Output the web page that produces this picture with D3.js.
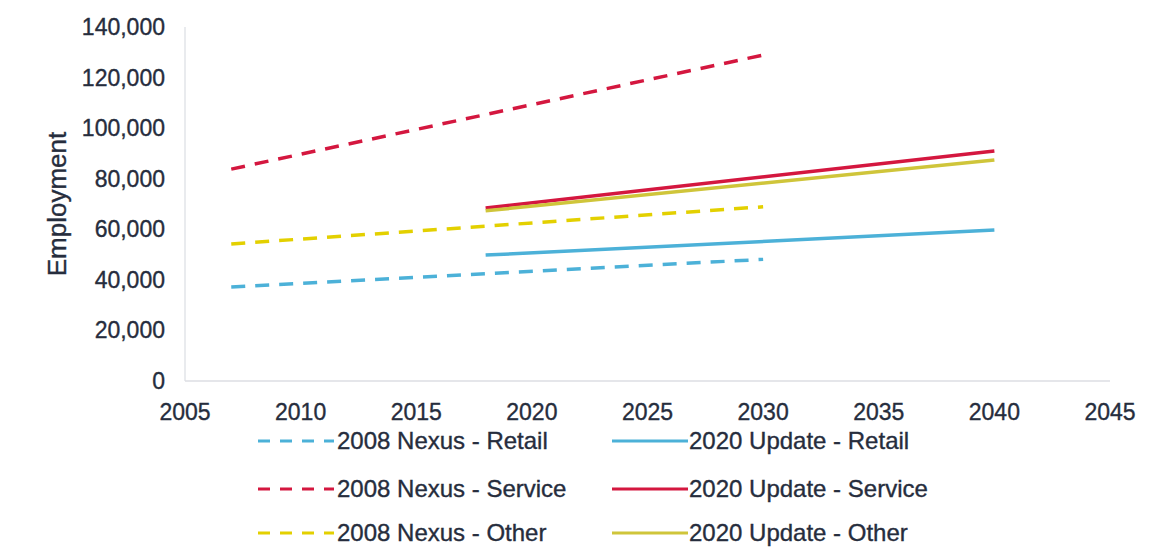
<!DOCTYPE html>
<html><head><meta charset="utf-8">
<script src="https://cdn.jsdelivr.net/npm/d3@7"></script>
<style>
html,body{margin:0;padding:0;background:#fff;}
text{font-family:"Liberation Sans",Arial,sans-serif;fill:#262d3d;stroke:#262d3d;stroke-width:0.35px;}
</style></head>
<body>
<svg id="chart" width="1155" height="557"></svg>
<script>
const xTicks = [2005,2010,2015,2020,2025,2030,2035,2040,2045];
const yTicks = [0,20000,40000,60000,80000,100000,120000,140000];
const nexusYears = [2007, 2030];
const updateYears = [2018, 2040];
const nexusRetail = [37200, 48100];
const nexusService = [83800, 128900];
const nexusOther = [54200, 68900];
const updateRetail = [49800, 59700];
const updateService = [68400, 91000];
const updateOther = [67300, 87400];
const seriesNames = ["2008 Nexus - Retail","2020 Update - Retail","2008 Nexus - Service","2020 Update - Service","2008 Nexus - Other","2020 Update - Other"];

const series = [
  {name:seriesNames[0], years:nexusYears, vals:nexusRetail, color:"#4cb1d8", dash:true},
  {name:seriesNames[1], years:updateYears, vals:updateRetail, color:"#4cb1d8", dash:false},
  {name:seriesNames[2], years:nexusYears, vals:nexusService, color:"#d4173f", dash:true},
  {name:seriesNames[3], years:updateYears, vals:updateService, color:"#d4173f", dash:false},
  {name:seriesNames[4], years:nexusYears, vals:nexusOther, color:"#e3d000", dash:true},
  {name:seriesNames[5], years:updateYears, vals:updateOther, color:"#cfc53a", dash:false}
];

const svg = d3.select("#chart");
const x = d3.scaleLinear().domain([2005,2045]).range([185,1110]);
const y = d3.scaleLinear().domain([0,140000]).range([381,27]);

svg.append("line").attr("x1",x(2005)).attr("x2",x(2005)).attr("y1",y(140000)).attr("y2",y(0))
  .attr("stroke","#e2e4e8").attr("stroke-width",1.5);
svg.append("line").attr("x1",x(2005)).attr("x2",x(2045)).attr("y1",y(0)).attr("y2",y(0))
  .attr("stroke","#dcdee3").attr("stroke-width",1.5);

const fmt = d3.format(",");
svg.append("g").selectAll("text").data(yTicks).join("text")
  .attr("x",165).attr("y",d=>y(d)).attr("dy","0.35em").attr("text-anchor","end")
  .attr("font-size",23).text(d=>fmt(d));
svg.append("g").selectAll("text").data(xTicks).join("text")
  .attr("x",d=>x(d)).attr("y",420).attr("text-anchor","middle")
  .attr("font-size",23).text(d=>d);

svg.append("text").attr("transform","translate(66,204) rotate(-90)")
  .attr("text-anchor","middle").attr("font-size",26).text("Employment");

const line = d3.line().x(d=>x(d[0])).y(d=>y(d[1]));
series.forEach(s=>{
  const pts = s.years.map((yr,i)=>[yr,s.vals[i]]);
  const p = svg.append("path").attr("d",line(pts)).attr("fill","none")
    .attr("stroke",s.color).attr("stroke-width",3.5);
  if(s.dash) p.attr("stroke-dasharray","14,10");
});

const legendPos = [[258,441],[612,441],[258,489],[612,489],[258,533],[612,533]];
series.forEach((s,i)=>{
  const [lx,ly] = legendPos[i];
  const l = svg.append("line").attr("x1",lx).attr("x2",lx+76).attr("y1",ly).attr("y2",ly)
    .attr("stroke",s.color).attr("stroke-width",3);
  if(s.dash) l.attr("stroke-dasharray","12,10");
  svg.append("text").attr("x",lx+(s.dash?79:77)).attr("y",ly).attr("dy","0.35em")
    .attr("font-size",24).text(s.name);
});
</script>
</body></html>
